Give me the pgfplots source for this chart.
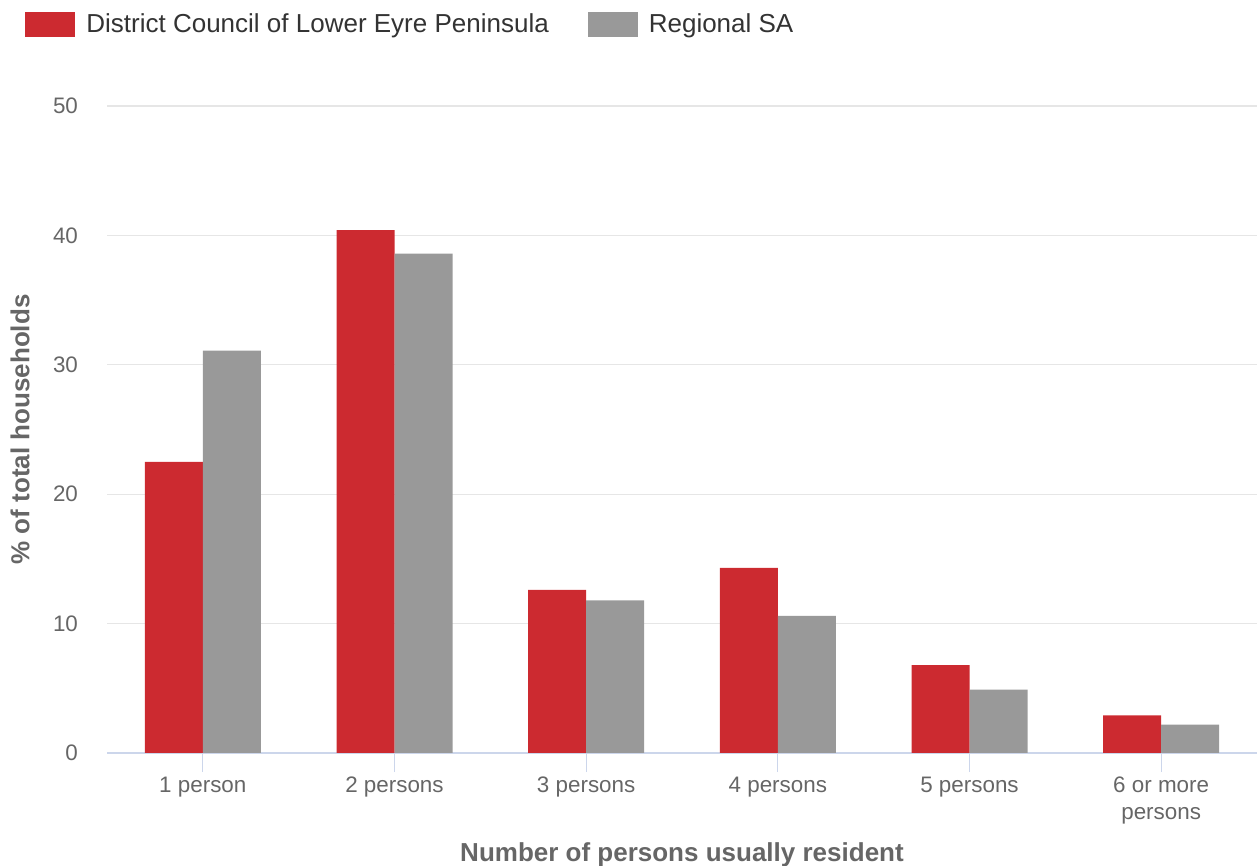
\documentclass[border=0pt]{standalone}
\usepackage{fontspec}
\setmainfont{Liberation Sans}
\usepackage{pgfplots}
\pgfplotsset{compat=1.18}
\definecolor{cred}{HTML}{CC2A30}
\definecolor{cgray}{HTML}{999999}
\definecolor{cgrid}{HTML}{E6E6E6}
\definecolor{caxis}{HTML}{CCD6EB}
\definecolor{ctext}{HTML}{666666}
\definecolor{clegend}{HTML}{333333}

\begin{document}
\begin{tikzpicture}
  \begin{axis}[
      scale only axis,
      width=575pt, height=323.5pt,
      ybar=0pt, bar width=29pt,
      xmin=-0.5, xmax=5.5,
      ymin=0, ymax=50,
      ytick={0,10,...,50},
      xtick=data,
      xticklabels={1 person,2 persons,3 persons,4 persons,5 persons,{6 or more\\persons}},
      axis lines*=left,
      y axis line style={draw=none},
      x axis line style={draw=caxis, line width=1pt},
      ytick style={draw=none},
      xtick style={draw=caxis, line width=0.5pt},
      tick align=outside,
      major tick length=9.5pt,
      ymajorgrids,
      grid style={cgrid, line width=0.6pt},
      tick label style={font=\fontsize{11.2}{13.5}\selectfont, text=ctext},
      xticklabel style={align=center, yshift=1pt},
      yticklabel style={xshift=-1.5pt},
      /pgf/number format/assume math mode=true,
      xlabel={Number of persons usually resident},
      ylabel={\% of total households},
      label style={font=\bfseries\fontsize{13}{15}\selectfont, text=ctext},
      xlabel style={at={(axis description cs:0.5,0)}, anchor=center, yshift=-51pt},
      ylabel style={at={(axis description cs:0,0.5)}, anchor=center, yshift=43.5pt},
      legend columns=2,
      legend style={at={(axis description cs:-0.0765,1.156)}, anchor=north west,
        draw=none, fill=none, font=\fontsize{13}{15}\selectfont, text=clegend,
        nodes={inner xsep=5.5pt},
        /tikz/every even column/.append style={column sep=14pt}},
      legend image code/.code={\fill[#1] (0pt,-6.25pt) rectangle (25pt,6.25pt);},
      clip=false,
    ]
    \addplot[fill=cred, draw=none] coordinates {(0,22.5) (1,40.4) (2,12.6) (3,14.3) (4,6.8) (5,2.9)};
    \addplot[fill=cgray, draw=none] coordinates {(0,31.1) (1,38.6) (2,11.8) (3,10.6) (4,4.9) (5,2.2)};
    \legend{District Council of Lower Eyre Peninsula, Regional SA}
    \coordinate (sw) at (rel axis cs:0,0);
    \coordinate (ne) at (rel axis cs:1,1);
  \end{axis}
  \pgfresetboundingbox
  \path ([shift={(-53.5pt,-56.5pt)}]sw) rectangle ([shift={(0pt,53pt)}]ne);
\end{tikzpicture}
\end{document}
